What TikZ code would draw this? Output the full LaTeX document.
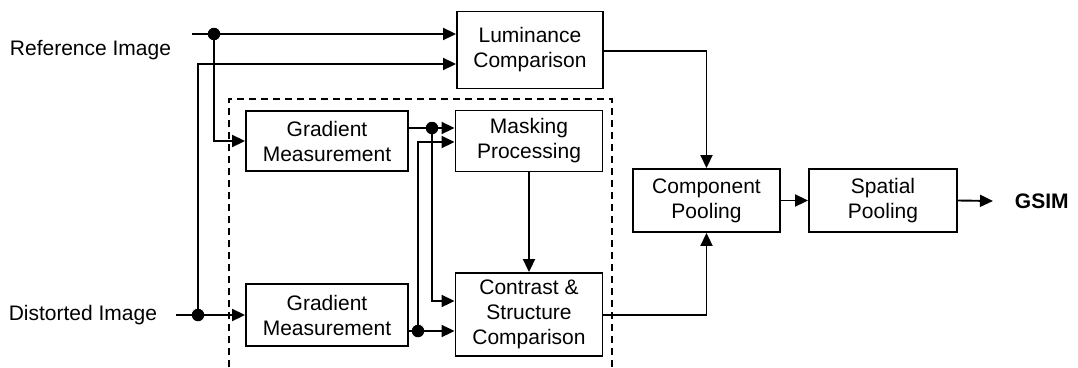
\documentclass[tikz,border=0pt]{standalone}
\usepackage{fontspec}
\setmainfont{Liberation Sans}
\usetikzlibrary{arrows.meta}
\begin{document}
\begin{tikzpicture}[x=1pt,y=-1pt,
  line width=1.9pt,
  font=\fontsize{21}{25}\selectfont,
  block/.style={draw, align=center, inner sep=2pt},
  lbl/.style={inner sep=0pt},
  arr/.style={-{Triangle[length=13pt,width=12pt]}},
  junction/.style={circle, fill, inner sep=0pt, minimum size=12.5pt},
  groupbox/.style={dashed, dash pattern=on 7pt off 5pt, line width=1.8pt}]
\useasboundingbox (0,0) rectangle (1078,367);

% processing blocks
\node[block, minimum width=146pt, minimum height=77pt] (lum)  at (530,50)    {Luminance\\Comparison};
\node[block, minimum width=162pt, minimum height=60pt] (grad1) at (327,141)  {Gradient\\Measurement};
\node[block, minimum width=147pt, minimum height=61pt] (mask) at (529,141)   {Masking\\Processing};
\node[block, minimum width=162pt, minimum height=62pt] (grad2) at (327,315)  {Gradient\\Measurement};
\node[block, minimum width=147pt, minimum height=83pt] (cs)   at (529,314.5) {Contrast \&\\Structure\\Comparison};
\node[block, minimum width=147pt, minimum height=63pt] (cp)   at (706.5,200.5) {Component\\Pooling};
\node[block, minimum width=148pt, minimum height=63pt] (sp)   at (883,200.5) {Spatial\\Pooling};

% inputs and output labels
\node[lbl, anchor=east] (ref)  at (172,50)  {Reference Image};
\node[lbl, anchor=east] (dist) at (158,315) {Distorted Image};
\node[lbl, anchor=west, font=\fontsize{21}{25}\selectfont\bfseries] (gsim) at (1014,201) {GSIM};

% gradient-based group (open at the bottom)
\draw[groupbox] (229,367) -- (229,99) -- (612,99) -- (612,367);

% connection points
\coordinate (refin)  at (192,34);
\coordinate (rj)     at (214,34);
\coordinate (distin) at (176,315);
\coordinate (dj)     at (198,315);
\coordinate (dup)    at (198,64);
\coordinate (g1out)  at (408,128);
\coordinate (g1j)    at (432,128);
\coordinate (g2out)  at (408,331);
\coordinate (g2j)    at (418,331);
\coordinate (m2in)   at (418,142);
\coordinate (c1in)   at (432,301);
\coordinate (lumout) at (603,51);
\coordinate (csout)  at (602,315);
\coordinate (gsimin) at (993,201);

% reference image paths
\draw[arr] (refin) -- (refin -| lum.west);
\draw[arr] (rj) |- (grad1.west);

% distorted image paths
\draw[arr] (distin) -- (grad2.west);
\draw[arr] (dj) -- (dup) -- (dup -| lum.west);

% gradient outputs
\draw[arr] (g1out) -- (g1out -| mask.west);
\draw[arr] (g1j) |- (c1in -| cs.west);
\draw[arr] (g2out) -- (g2out -| cs.west);
\draw[arr] (g2j) |- (m2in -| mask.west);

% masking into contrast/structure
\draw[arr] (mask.south) -- (cs.north);

% pooling stages
\draw[arr] (lumout) -| (cp.north);
\draw[arr] (csout) -| (cp.south);
\draw[arr] (cp) -- (sp);
\draw[arr] (sp.east) -- (gsimin);

% junction dots
\foreach \j in {rj,dj,g1j,g2j} \node[junction] at (\j) {};
\end{tikzpicture}
\end{document}
